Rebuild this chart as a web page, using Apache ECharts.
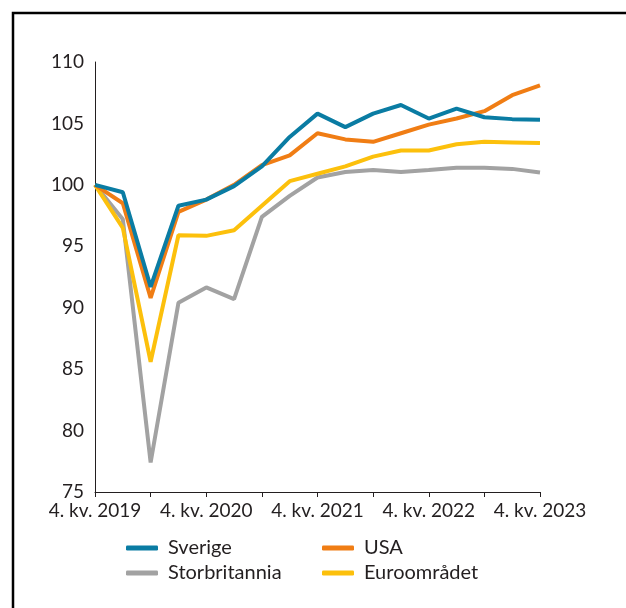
<!DOCTYPE html>
<html>
<head>
<meta charset="utf-8">
<script src="https://cdn.jsdelivr.net/npm/echarts@6/dist/echarts.min.js"></script>
<style>
  html, body { margin: 0; padding: 0; background: #fff; }
  #chart { width: 626px; height: 608px; }
</style>
</head>
<body>
<div id="chart"></div>
<script>
var quarters = ['4. kv. 2019',
    '1. kv. 2020', '2. kv. 2020', '3. kv. 2020', '4. kv. 2020',
    '1. kv. 2021', '2. kv. 2021', '3. kv. 2021', '4. kv. 2021',
    '1. kv. 2022', '2. kv. 2022', '3. kv. 2022', '4. kv. 2022',
    '1. kv. 2023', '2. kv. 2023', '3. kv. 2023', '4. kv. 2023'];

var sverige = [100, 99.4, 91.7, 98.3, 98.8, 99.9, 101.5, 103.9, 105.8, 104.7, 105.8, 106.5, 105.4, 106.2, 105.5, 105.35, 105.3];
var usa = [100, 98.5, 90.8, 97.8, 98.8, 100.0, 101.6, 102.4, 104.2, 103.7, 103.5, 104.2, 104.9, 105.4, 106.0, 107.3, 108.1];
var storbritannia = [100, 97.2, 77.4, 90.4, 91.65, 90.7, 97.4, 99.1, 100.6, 101.05, 101.2, 101.05, 101.2, 101.4, 101.4, 101.3, 101.0];
var euro = [100, 96.5, 85.6, 95.9, 95.85, 96.3, 98.3, 100.3, 100.9, 101.5, 102.3, 102.8, 102.8, 103.3, 103.5, 103.45, 103.4];

var colors = {
    blue: '#0a7ca3',
    orange: '#f07d14',
    grey: '#a2a2a2',
    yellow: '#fcc00c'
};

var font = 'Lato, "Noto Sans", sans-serif';

var chart = echarts.init(document.getElementById('chart'));

function line(name, data, color) {
    return {
        name: name,
        type: 'line',
        data: data,
        symbol: 'none',
        lineStyle: { width: 4, color: color },
        itemStyle: { color: color }
    };
}

var legendBase = {
    orient: 'vertical',
    top: 532,
    itemWidth: 32,
    itemHeight: 5,
    itemGap: 3,
    icon: 'roundRect',
    textStyle: { fontFamily: font, fontSize: 20, color: '#231f20', lineHeight: 22, padding: [0, 0, 0, 5] }
};

chart.setOption({
    animation: false,
    graphic: [{
        type: 'rect',
        shape: { x: 13, y: 13, width: 700, height: 700 },
        style: { fill: 'none', stroke: '#000', lineWidth: 2.5 }
    }],
    grid: { left: 95, right: 86, top: 62, bottom: 116 },
    legend: [
        Object.assign({ left: 121, data: ['Sverige', 'Storbritannia'] }, legendBase),
        Object.assign({ left: 317, data: ['USA', 'Euroområdet'] }, legendBase)
    ],
    xAxis: {
        type: 'category',
        data: quarters,
        boundaryGap: false,
        axisLine: { lineStyle: { color: '#231f20', width: 1 } },
        axisTick: { show: true, interval: 1, length: 5, lineStyle: { color: '#231f20' } },
        axisLabel: { interval: 3, color: '#231f20', fontFamily: font, fontSize: 19, margin: 9 },
        splitLine: { show: false }
    },
    yAxis: {
        type: 'value',
        min: 75,
        max: 110,
        interval: 5,
        axisLine: { show: true, lineStyle: { color: '#231f20', width: 1 } },
        axisTick: { show: false },
        axisLabel: { color: '#231f20', fontFamily: font, fontSize: 19, margin: 11 },
        splitLine: { show: false }
    },
    series: [
        line('Storbritannia', storbritannia, colors.grey),
        line('Euroområdet', euro, colors.yellow),
        line('USA', usa, colors.orange),
        line('Sverige', sverige, colors.blue)
    ]
});
</script>
</body>
</html>
